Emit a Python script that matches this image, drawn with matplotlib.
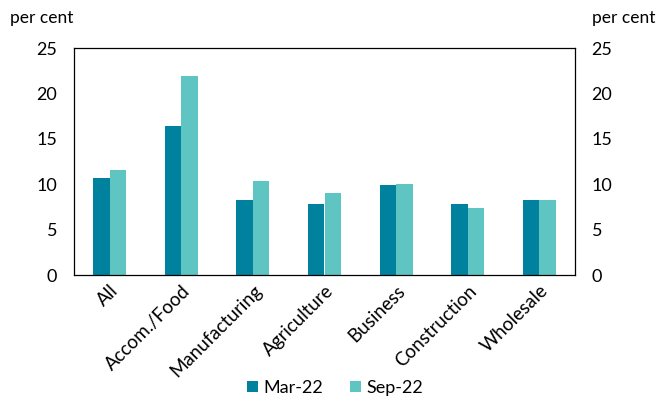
import matplotlib.pyplot as plt
import numpy as np

plt.rcParams['font.family'] = ['Lato', 'DejaVu Sans']

sectors = ["All", "Accom./Food", "Manufacturing", "Agriculture",
           "Business", "Construction", "Wholesale"]
mar22 = [10.7, 16.4, 8.3, 7.8, 9.9, 7.8, 8.3]
sep22 = [11.6, 21.9, 10.3, 9.0, 10.0, 7.35, 8.3]

c_mar = "#00829F"
c_sep = "#5FC5C2"

fig = plt.figure(figsize=(6.72, 3.98), dpi=100)
ax = fig.add_axes([74/672, 1 - 275/398, 501/672, 227/398])

x = np.arange(len(sectors))
w = 0.23
ax.bar(x - w/2, mar22, w, color=c_mar, label="Mar-22")
ax.bar(x + w/2, sep22, w, color=c_sep, label="Sep-22")

ax.set_xlim(-0.5, len(sectors) - 0.5)
ax.set_ylim(0, 25)
ax.set_yticks(range(0, 26, 5))
ax.tick_params(axis='y', length=0, labelsize=13, pad=12,
               labelright=True, right=False)
ax.set_xticks(x)
ax.set_xticklabels(sectors, rotation=45, ha='right', rotation_mode='anchor',
                   fontsize=13.5)
ax.tick_params(axis='x', length=0, pad=5)
for s in ax.spines.values():
    s.set_color('black')
    s.set_linewidth(0.9)

fig.text(10/672, 1 - 18/398, "per cent", fontsize=12.5, va='center')
fig.text(592/672, 1 - 18/398, "per cent", fontsize=12.5, va='center')

fig.legend(loc='center', bbox_to_anchor=(335/672, 1 - 388/398), ncol=2,
           frameon=False, fontsize=13, handlelength=0.6, handleheight=0.6,
           handletextpad=0.3, columnspacing=1.5)

fig.savefig("out.png", dpi=100)
